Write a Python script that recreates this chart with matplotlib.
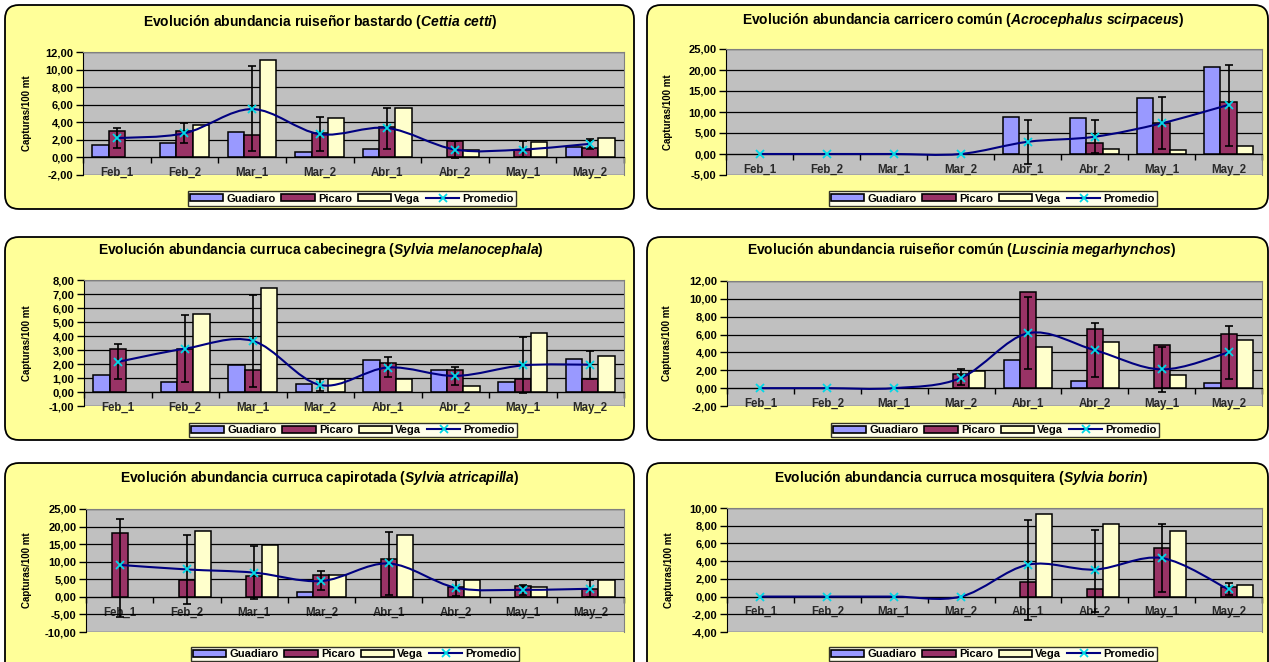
import matplotlib
matplotlib.use('Agg')
import matplotlib.pyplot as plt
import numpy as np
from matplotlib.patches import FancyBboxPatch, Patch, PathPatch
from matplotlib.path import Path
from matplotlib.lines import Line2D
from matplotlib.ticker import FuncFormatter
from matplotlib.transforms import IdentityTransform

plt.rcParams['font.family'] = ['Liberation Sans', 'DejaVu Sans']
plt.rcParams['font.weight'] = 'bold'
plt.rcParams['mathtext.fontset'] = 'custom'
plt.rcParams['mathtext.it'] = 'Liberation Sans:italic:bold'
plt.rcParams['mathtext.rm'] = 'Liberation Sans:bold'
plt.rcParams['mathtext.bf'] = 'Liberation Sans:bold'

# ---------------- data ----------------
categories = ['Feb_1', 'Feb_2', 'Mar_1', 'Mar_2', 'Abr_1', 'Abr_2', 'May_1', 'May_2']
series_names = ['Guadiaro', 'Picaro', 'Vega', 'Promedio']
y_label = 'Capturas/100 mt'

# Panel 1: Cettia cetti
title_1 = r'Evolución abundancia ruiseñor bastardo ($\mathit{Cettia\ cetti}$)'
guadiaro_1 = [1.4, 1.6, 2.9, 0.6, 1.0, 0.0, 0.0, 1.2]
picaro_1 = [3.0, 3.0, 2.6, 2.8, 3.5, 1.9, 0.8, 1.1]
vega_1 = [0.0, 3.7, 11.1, 4.5, 5.6, 0.8, 1.8, 2.2]
promedio_1 = [2.2, 2.75, 5.5, 2.65, 3.35, 0.9, 0.9, 1.55]
err_lo_1 = [1.1, 1.6, 0.7, 0.7, 1.0, -0.1, 0.0, 1.0]
err_hi_1 = [3.4, 3.9, 10.4, 4.6, 5.6, 1.9, 1.9, 2.1]

# Panel 2: Acrocephalus scirpaceus
title_2 = r'Evolución abundancia carricero común ($\mathit{Acrocephalus\ scirpaceus}$)'
guadiaro_2 = [0.0, 0.0, 0.0, 0.0, 8.7, 8.5, 13.3, 20.8]
picaro_2 = [0.0, 0.0, 0.0, 0.0, 0.0, 2.6, 7.5, 12.4]
vega_2 = [0.0, 0.0, 0.0, 0.0, 0.0, 1.2, 1.0, 1.9]
promedio_2 = [0.0, 0.0, 0.0, 0.0, 2.9, 4.1, 7.3, 11.7]
err_lo_2 = [0.0, 0.0, 0.0, 0.0, -2.3, 0.3, 1.2, 2.0]
err_hi_2 = [0.0, 0.0, 0.0, 0.0, 8.0, 8.0, 13.5, 21.3]

# Panel 3: Sylvia melanocephala
title_3 = r'Evolución abundancia curruca cabecinegra ($\mathit{Sylvia\ melanocephala}$)'
guadiaro_3 = [1.25, 0.75, 1.9, 0.6, 2.3, 1.55, 0.7, 2.35]
picaro_3 = [3.1, 3.1, 1.55, 0.0, 2.1, 1.55, 0.95, 0.95]
vega_3 = [0.0, 5.6, 7.4, 0.9, 0.9, 0.4, 4.2, 2.55]
promedio_3 = [2.15, 3.1, 3.65, 0.5, 1.75, 1.15, 1.9, 1.95]
err_lo_3 = [0.9, 0.7, 0.35, 0.05, 1.05, 0.5, -0.1, 0.95]
err_hi_3 = [3.4, 5.5, 6.9, 0.95, 2.5, 1.8, 3.9, 2.9]

# Panel 4: Luscinia megarhynchos
title_4 = r'Evolución abundancia ruiseñor común ($\mathit{Luscinia\ megarhynchos}$)'
guadiaro_4 = [0.0, 0.0, 0.0, 0.0, 3.1, 0.8, 0.0, 0.6]
picaro_4 = [0.0, 0.0, 0.0, 1.6, 10.8, 6.6, 4.8, 6.1]
vega_4 = [0.0, 0.0, 0.0, 1.9, 4.6, 5.2, 1.5, 5.4]
promedio_4 = [0.0, 0.0, 0.0, 1.15, 6.15, 4.25, 2.1, 4.0]
err_lo_4 = [0.0, 0.0, 0.0, 0.3, 2.1, 1.2, -0.4, 1.0]
err_hi_4 = [0.0, 0.0, 0.0, 2.1, 10.2, 7.3, 4.6, 7.0]

# Panel 5: Sylvia atricapilla
title_5 = r'Evolución abundancia curruca capirotada ($\mathit{Sylvia\ atricapilla}$)'
guadiaro_5 = [0.0, 0.0, 0.0, 1.3, 0.0, 0.0, 0.0, 0.0]
picaro_5 = [18.3, 4.9, 5.8, 6.1, 10.8, 2.9, 3.0, 2.1]
vega_5 = [0.0, 18.6, 14.8, 6.1, 17.7, 4.8, 2.9, 4.7]
promedio_5 = [9.1, 7.8, 6.9, 4.5, 9.5, 2.6, 2.0, 2.3]
err_lo_5 = [-5.8, -2.1, -0.7, 2.0, 0.6, 0.3, 0.5, 0.0]
err_hi_5 = [22.1, 17.6, 14.5, 7.3, 18.4, 4.8, 3.5, 4.7]

# Panel 6: Sylvia borin
title_6 = r'Evolución abundancia curruca mosquitera ($\mathit{Sylvia\ borin}$)'
guadiaro_6 = [0.0, 0.0, 0.0, 0.0, 0.0, 0.0, 0.0, 0.0]
picaro_6 = [0.0, 0.0, 0.0, 0.0, 1.6, 0.9, 5.5, 1.1]
vega_6 = [0.0, 0.0, 0.0, 0.0, 9.3, 8.2, 7.4, 1.3]
promedio_6 = [0.0, 0.0, 0.0, 0.0, 3.6, 3.05, 4.35, 0.8]
err_lo_6 = [0.0, 0.0, 0.0, 0.0, -2.7, -1.7, 0.5, 0.2]
err_hi_6 = [0.0, 0.0, 0.0, 0.0, 8.6, 7.5, 8.2, 1.5]

y_ranges = [(-2, 12, 2), (-5, 25, 5), (-1, 8, 1), (-2, 12, 2), (-10, 25, 5), (-4, 10, 2)]

panels = [
    (title_1, guadiaro_1, picaro_1, vega_1, promedio_1, err_lo_1, err_hi_1),
    (title_2, guadiaro_2, picaro_2, vega_2, promedio_2, err_lo_2, err_hi_2),
    (title_3, guadiaro_3, picaro_3, vega_3, promedio_3, err_lo_3, err_hi_3),
    (title_4, guadiaro_4, picaro_4, vega_4, promedio_4, err_lo_4, err_hi_4),
    (title_5, guadiaro_5, picaro_5, vega_5, promedio_5, err_lo_5, err_hi_5),
    (title_6, guadiaro_6, picaro_6, vega_6, promedio_6, err_lo_6, err_hi_6),
]

# ---------------- layout (pixels) ----------------
W, H = 1269, 662
boxes = [(5, 5, 634, 209), (647, 5, 1268, 209),
         (5, 237, 634, 440), (647, 237, 1268, 440),
         (5, 463, 634, 690), (647, 463, 1268, 690)]
plots = [(83, 52, 624, 175), (726, 49, 1262, 175),
         (84, 280, 624, 406), (727, 281, 1262, 406),
         (86, 509, 624, 632), (727, 508, 1262, 632)]
title_pos = [(320, 22, 396), (963, 20, 450), (321, 250, 452),
             (962, 250, 438), (320, 478, 445), (961, 478, 416)]
legend_pos = [(352, 198.5), (993, 198.5), (353, 430), (995, 430), (355, 654), (993, 654)]
ylabel_x = [27, 668, 27, 667, 27, 669]

c_g, c_p, c_v = '#9999FF', '#993366', '#FFFFCC'
c_line, c_mark = '#000080', '#00D8E8'

fig = plt.figure(figsize=(W / 100, H / 100), dpi=100)
fig.patch.set_facecolor('white')
renderer = fig.canvas.get_renderer()

comma = FuncFormatter(lambda v, p: f'{v:.2f}'.replace('.', ','))


def smooth_path(xs, ys):
    n = len(xs)
    verts = [(xs[0], ys[0])]
    codes = [Path.MOVETO]
    for i in range(n - 1):
        p0 = (xs[max(i - 1, 0)], ys[max(i - 1, 0)])
        p1 = (xs[i], ys[i])
        p2 = (xs[i + 1], ys[i + 1])
        p3 = (xs[min(i + 2, n - 1)], ys[min(i + 2, n - 1)])
        c1 = (p1[0] + (p2[0] - p0[0]) / 6, p1[1] + (p2[1] - p0[1]) / 6)
        c2 = (p2[0] - (p3[0] - p1[0]) / 6, p2[1] - (p3[1] - p1[1]) / 6)
        verts += [c1, c2, p2]
        codes += [Path.CURVE4] * 3
    return Path(verts, codes)


x = np.arange(len(categories))
bw = 0.24


def draw_bars(ax, xs, vals, color):
    vals = np.asarray(vals)
    nz = vals != 0
    ax.bar(xs[nz], vals[nz], bw, color=color, edgecolor='black', lw=1.1, zorder=2)


for k, (title, g, p, v, pr, lo, hi) in enumerate(panels):
    bx0, by0, bx1, by1 = boxes[k]
    box = FancyBboxPatch((bx0, H - by1), bx1 - bx0, by1 - by0,
                         boxstyle='round,pad=0,rounding_size=14',
                         transform=IdentityTransform(), facecolor='#FFFF99',
                         edgecolor='black', lw=1.3, zorder=-5)
    fig.add_artist(box)

    px0, py0, px1, py1 = plots[k]
    ax = fig.add_axes([px0 / W, 1 - py1 / H, (px1 - px0) / W, (py1 - py0) / H])
    ax.set_facecolor('#C0C0C0')
    ymin, ymax, step = y_ranges[k]
    ax.set_xlim(-0.5, len(categories) - 0.5)
    ax.set_ylim(ymin, ymax)
    ax.set_axisbelow(True)
    ax.set_yticks(np.arange(ymin, ymax + step / 2, step))
    ax.yaxis.set_major_formatter(comma)
    ax.yaxis.grid(True, color='black', lw=0.9)
    ax.tick_params(axis='y', length=5, width=1, direction='out', labelsize=8, pad=2)

    ax.spines['bottom'].set_position(('data', 0))
    ax.spines['bottom'].set_color('black')
    ax.spines['left'].set_color('black')
    ax.spines['top'].set_color('#808080')
    ax.spines['right'].set_color('#808080')
    ax.set_xticks(x)
    ax.set_xticklabels(categories)
    ax.set_xticks(np.arange(-0.5, len(categories), 1), minor=True)
    ax.tick_params(axis='x', which='major', length=0, pad=7, labelsize=8.3, labelcolor='#2a2a2a')
    ax.tick_params(axis='x', which='minor', length=4, width=1, direction='out', color='black')

    draw_bars(ax, x - bw, g, c_g)
    draw_bars(ax, x, p, c_p)
    draw_bars(ax, x + bw, v, c_v)

    pr = np.array(pr)
    lo = np.array(lo)
    hi = np.array(hi)
    ax.add_patch(PathPatch(smooth_path(x, pr), fill=False, edgecolor=c_line, lw=1.5, zorder=4))
    m = hi > lo
    ax.errorbar(x[m], pr[m], yerr=[pr[m] - lo[m], hi[m] - pr[m]], fmt='none',
                ecolor='black', elinewidth=1.2, capsize=3, capthick=1.2, zorder=5)
    ax.plot(x, pr, linestyle='none', marker='x', ms=6, mew=1.3, color=c_mark, zorder=6)

    # title with width fitted to reference
    tx, ty, tw = title_pos[k]
    t = fig.text(tx / W, 1 - ty / H, title, ha='center', va='center', fontsize=9, fontweight='bold')
    wpx = t.get_window_extent(renderer).width
    fs = 9 * tw / wpx
    t.set_fontsize(min(fs, 10))

    fig.text(ylabel_x[k] / W, 1 - (py0 + py1) / 2 / H, y_label, rotation=90,
             ha='center', va='center', fontsize=7, fontweight='bold')

    handles = [Patch(facecolor=c_g, edgecolor='black', lw=1.2),
               Patch(facecolor=c_p, edgecolor='black', lw=1.2),
               Patch(facecolor=c_v, edgecolor='black', lw=1.2),
               Line2D([], [], color=c_line, lw=1.5, marker='x', ms=6, mew=1.3, mec=c_mark)]
    lx, ly = legend_pos[k]
    leg = fig.legend(handles, series_names, loc='center', bbox_to_anchor=(lx / W, 1 - ly / H),
                     ncol=4, fontsize=8, frameon=True, fancybox=False, edgecolor='black',
                     handlelength=3.0, handleheight=0.6, columnspacing=0.5, handletextpad=0.3,
                     borderpad=0.2, borderaxespad=0)
    leg.get_frame().set_linewidth(1.0)
    leg.get_frame().set_facecolor('white')

fig.savefig('out.png', dpi=100)
